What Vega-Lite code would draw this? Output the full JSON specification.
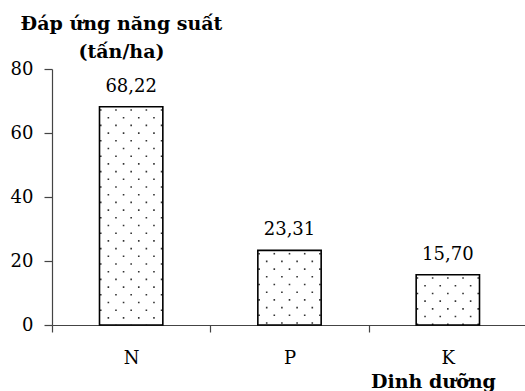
{
  "$schema": "https://vega.github.io/schema/vega-lite/v6.json",
  "width": 475,
  "height": 256,
  "autosize": {"type": "none"},
  "padding": {"left": 52, "top": 69, "right": 0, "bottom": 66},
  "background": "white",
  "data": {
    "values": [
      {"nutrient": "N", "value": 68.22},
      {"nutrient": "P", "value": 23.31},
      {"nutrient": "K", "value": 15.70}
    ]
  },
  "encoding": {
    "x": {
      "field": "nutrient",
      "type": "nominal",
      "sort": ["N", "P", "K"],
      "scale": {"paddingInner": 0, "paddingOuter": 0},
      "axis": {
        "title": "Dinh dưỡng",
        "labelAngle": 0,
        "tickBand": "extent",
        "tickSize": 7,
        "labelPadding": 17,
        "labelBaseline": "top",
        "titleX": 381,
        "titleY": 62,
        "titleAlign": "center",
        "titleBaseline": "alphabetic"
      }
    }
  },
  "layer": [
    {"mark": {"type": "rule", "xOffset": -30.4, "strokeDash": [1.6, 13.8], "strokeDashOffset": 12.9}, "encoding": {"y": {"field": "value", "type": "quantitative"}, "y2": {"datum": 0}}},
    {"mark": {"type": "rule", "xOffset": -22.8, "strokeDash": [1.6, 13.8], "strokeDashOffset": 5.2}, "encoding": {"y": {"field": "value", "type": "quantitative"}, "y2": {"datum": 0}}},
    {"mark": {"type": "rule", "xOffset": -15.2, "strokeDash": [1.6, 13.8], "strokeDashOffset": 12.9}, "encoding": {"y": {"field": "value", "type": "quantitative"}, "y2": {"datum": 0}}},
    {"mark": {"type": "rule", "xOffset": -7.6, "strokeDash": [1.6, 13.8], "strokeDashOffset": 5.2}, "encoding": {"y": {"field": "value", "type": "quantitative"}, "y2": {"datum": 0}}},
    {"mark": {"type": "rule", "xOffset": 0, "strokeDash": [1.6, 13.8], "strokeDashOffset": 12.9}, "encoding": {"y": {"field": "value", "type": "quantitative"}, "y2": {"datum": 0}}},
    {"mark": {"type": "rule", "xOffset": 7.6, "strokeDash": [1.6, 13.8], "strokeDashOffset": 5.2}, "encoding": {"y": {"field": "value", "type": "quantitative"}, "y2": {"datum": 0}}},
    {"mark": {"type": "rule", "xOffset": 15.2, "strokeDash": [1.6, 13.8], "strokeDashOffset": 12.9}, "encoding": {"y": {"field": "value", "type": "quantitative"}, "y2": {"datum": 0}}},
    {"mark": {"type": "rule", "xOffset": 22.8, "strokeDash": [1.6, 13.8], "strokeDashOffset": 5.2}, "encoding": {"y": {"field": "value", "type": "quantitative"}, "y2": {"datum": 0}}},
    {"mark": {"type": "rule", "xOffset": 30.4, "strokeDash": [1.6, 13.8], "strokeDashOffset": 12.9}, "encoding": {"y": {"field": "value", "type": "quantitative"}, "y2": {"datum": 0}}},
    {
      "mark": {"type": "bar", "width": {"band": 0.4}, "filled": false, "stroke": "black", "strokeWidth": 1.6},
      "encoding": {
        "y": {
          "field": "value",
          "type": "quantitative",
          "scale": {"domain": [0, 80]},
          "axis": {
            "title": ["Đáp ứng năng suất", "(tấn/ha)"],
            "values": [0, 20, 40, 60, 80],
            "grid": false,
            "tickSize": 8,
            "labelPadding": 11,
            "titleAngle": 0,
            "titleAlign": "center",
            "titleBaseline": "alphabetic",
            "titleX": 69,
            "titleY": -40,
            "titleFontSize": 19,
            "titleLineHeight": 28
          }
        }
      }
    },
    {
      "mark": {"type": "text", "baseline": "alphabetic", "dy": -15, "fontSize": 18, "font": "DejaVu Serif", "color": "black"},
      "encoding": {
        "y": {"field": "value", "type": "quantitative"},
        "text": {"field": "value", "type": "quantitative", "format": ".2f"}
      }
    }
  ],
  "config": {
    "locale": {"number": {"decimal": ",", "thousands": ".", "grouping": [3], "currency": ["", ""]}},
    "font": "DejaVu Serif",
    "view": {"stroke": null},
    "rule": {"color": "#333333", "strokeWidth": 1.6},
    "axis": {
      "labelFont": "DejaVu Serif",
      "labelFontSize": 18,
      "labelColor": "black",
      "titleFont": "DejaVu Serif",
      "titleFontSize": 19,
      "titleFontWeight": "bold",
      "titleColor": "black",
      "domainColor": "#444444",
      "tickColor": "#444444",
      "domainWidth": 1.2,
      "tickWidth": 1.2
    }
  }
}
